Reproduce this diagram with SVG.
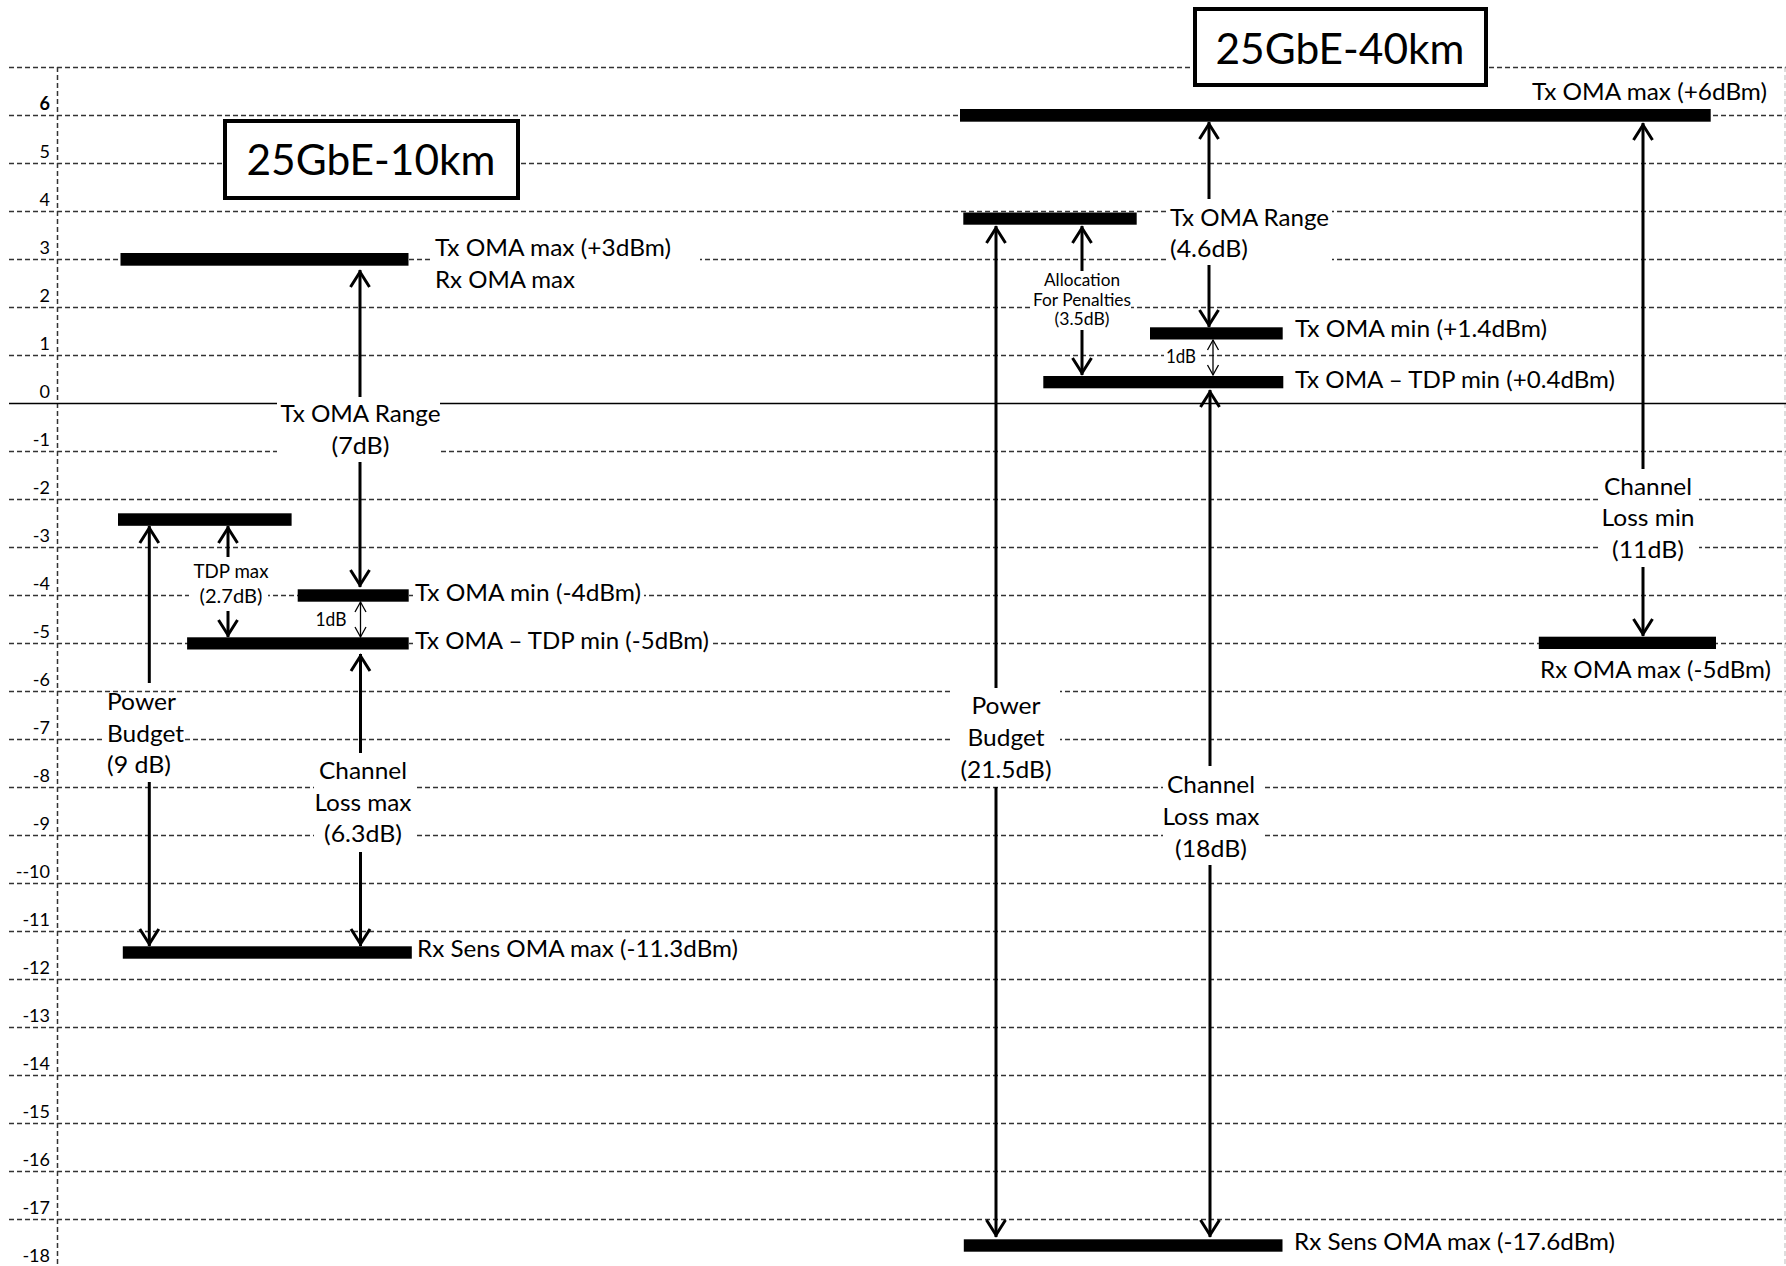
<svg xmlns="http://www.w3.org/2000/svg" width="1786" height="1266" viewBox="0 0 1786 1266">
<defs>
<style>
.grid{stroke:#333;stroke-width:1.5;stroke-dasharray:5 3;fill:none}
.bar{fill:#000}
.bg{fill:#fff}
.arr{stroke:#000;stroke-width:3;fill:none;marker-end:url(#ah)}
.thin{stroke:#000;stroke-width:1.3;fill:none;marker-start:url(#ahs);marker-end:url(#ahs)}
text{font-family:Lato,"Open Sans","Liberation Sans",sans-serif;fill:#000}
.t{font-size:24px}
.ax{font-size:18px;text-anchor:end}
.sm{font-size:17px;text-anchor:middle}
.md{font-size:19px;text-anchor:middle}
.c{text-anchor:middle}
.title{font-size:43px;text-anchor:middle}
.box{fill:#fff;stroke:#000;stroke-width:4}
</style>
<marker id="ah" markerUnits="userSpaceOnUse" orient="auto" refX="0" refY="0" markerWidth="30" markerHeight="30" overflow="visible">
<path d="M-17,-9.5 L-2,0 L-17,9.5" fill="none" stroke="#000" stroke-width="3"/>
</marker>
<marker id="ahs" markerUnits="userSpaceOnUse" orient="auto-start-reverse" refX="0" refY="0" markerWidth="20" markerHeight="20" overflow="visible">
<path d="M-10,-5.5 L0,0 L-10,5.5" fill="none" stroke="#000" stroke-width="1.3"/>
</marker>
</defs>
<rect width="1786" height="1266" fill="#fff"/>

<g id="grid">
<path class="grid" d="M9,67.5H1786M9,115.5H1786M9,163.5H1786M9,211.5H1786M9,259.5H1786M9,307.5H1786M9,355.5H1786M9,451.5H1786M9,499.5H1786M9,547.5H1786M9,595.5H1786M9,643.5H1786M9,691.5H1786M9,739.5H1786M9,787.5H1786M9,835.5H1786M9,883.5H1786M9,931.5H1786M9,979.5H1786M9,1027.5H1786M9,1075.5H1786M9,1123.5H1786M9,1171.5H1786M9,1219.5H1786"/>
<path class="grid" d="M57.5,67V1266"/>
<path d="M1785,67V1266" stroke="#bbb" stroke-width="1" stroke-dasharray="5 3"/>
<path d="M9,403.5H1786" stroke="#000" stroke-width="1.6"/>
</g>

<g id="axis-labels">
<text class="ax" x="50" y="109.5" font-weight="bold">6</text>
<text class="ax" x="50" y="157.5">5</text>
<text class="ax" x="50" y="205.5">4</text>
<text class="ax" x="50" y="253.5">3</text>
<text class="ax" x="50" y="301.5">2</text>
<text class="ax" x="50" y="349.5">1</text>
<text class="ax" x="50" y="397.5">0</text>
<text class="ax" x="50" y="445.5">-1</text>
<text class="ax" x="50" y="493.5">-2</text>
<text class="ax" x="50" y="541.5">-3</text>
<text class="ax" x="50" y="589.5">-4</text>
<text class="ax" x="50" y="637.5">-5</text>
<text class="ax" x="50" y="685.5">-6</text>
<text class="ax" x="50" y="733.5">-7</text>
<text class="ax" x="50" y="781.5">-8</text>
<text class="ax" x="50" y="829.5">-9</text>
<text class="ax" x="50" y="877.5">--10</text>
<text class="ax" x="50" y="925.5">-11</text>
<text class="ax" x="50" y="973.5">-12</text>
<text class="ax" x="50" y="1021.5">-13</text>
<text class="ax" x="50" y="1069.5">-14</text>
<text class="ax" x="50" y="1117.5">-15</text>
<text class="ax" x="50" y="1165.5">-16</text>
<text class="ax" x="50" y="1213.5">-17</text>
<text class="ax" x="50" y="1261.5">-18</text>
</g>

<g id="label-backgrounds">
<rect class="bg" x="433" y="236" width="267" height="60"/>
<rect class="bg" x="277" y="398" width="163" height="63"/>
<rect class="bg" x="189" y="560" width="79" height="50"/>
<rect class="bg" x="413" y="584" width="231" height="23"/>
<rect class="bg" x="413" y="632" width="299" height="24"/>
<rect class="bg" x="105" y="694" width="79" height="87"/>
<rect class="bg" x="314" y="757" width="101" height="93"/>
<rect class="bg" x="1166" y="204" width="166" height="60"/>
<rect class="bg" x="1031" y="272" width="100" height="57"/>
<rect class="bg" x="1164" y="347" width="34" height="19"/>
<rect class="bg" x="952" y="689" width="108" height="96"/>
<rect class="bg" x="1163" y="772" width="99" height="90"/>
<rect class="bg" x="1601" y="474" width="98" height="91"/>
</g>

<g id="title-10km">
<rect class="box" x="225" y="121" width="293" height="77"/>
<text class="title" x="371" y="175" textLength="249" lengthAdjust="spacingAndGlyphs">25GbE-10km</text>
</g>
<g id="title-40km">
<rect class="box" x="1195" y="9" width="291" height="76"/>
<text class="title" x="1340" y="64" textLength="249" lengthAdjust="spacingAndGlyphs">25GbE-40km</text>
</g>

<g id="level-10km-txmax">
<rect class="bar" x="120.5" y="253" width="288" height="12.7"/>
<text class="t" x="435" y="256" textLength="236" lengthAdjust="spacingAndGlyphs">Tx OMA max (+3dBm)</text>
<text class="t" x="435" y="288" textLength="140" lengthAdjust="spacingAndGlyphs">Rx OMA max</text>
</g>
<g id="level-10km-tdp">
<rect class="bar" x="118" y="513.3" width="173.6" height="12.5"/>
</g>
<g id="level-10km-txmin">
<rect class="bar" x="297.7" y="589.3" width="111" height="12.4"/>
<text class="t" x="415" y="600.5" textLength="226" lengthAdjust="spacingAndGlyphs">Tx OMA min (-4dBm)</text>
</g>
<g id="level-10km-txtdp">
<rect class="bar" x="187.1" y="637.3" width="221.6" height="12.2"/>
<text class="t" x="415" y="649" textLength="294" lengthAdjust="spacingAndGlyphs">Tx OMA – TDP min (-5dBm)</text>
</g>
<g id="level-10km-rxsens">
<rect class="bar" x="122.8" y="946.3" width="289" height="12.4"/>
<text class="t" x="417" y="957" textLength="321" lengthAdjust="spacingAndGlyphs">Rx Sens OMA max (-11.3dBm)</text>
</g>

<g id="level-40km-txmax">
<rect class="bar" x="960" y="109" width="750.7" height="12.7"/>
<text class="t" x="1532" y="100" textLength="235" lengthAdjust="spacingAndGlyphs">Tx OMA max (+6dBm)</text>
</g>
<g id="level-40km-alloc">
<rect class="bar" x="963.3" y="212.5" width="173.4" height="12.2"/>
</g>
<g id="level-40km-txmin">
<rect class="bar" x="1150" y="327.3" width="132.7" height="12.2"/>
<text class="t" x="1295" y="337" textLength="252" lengthAdjust="spacingAndGlyphs">Tx OMA min (+1.4dBm)</text>
</g>
<g id="level-40km-txtdp">
<rect class="bar" x="1043.3" y="376" width="240" height="12.3"/>
<text class="t" x="1295" y="387.5" textLength="320" lengthAdjust="spacingAndGlyphs">Tx OMA – TDP min (+0.4dBm)</text>
</g>
<g id="level-40km-rxmax">
<rect class="bar" x="1538.8" y="636.7" width="177.2" height="12.3"/>
<text class="t" x="1540" y="677.5" textLength="231" lengthAdjust="spacingAndGlyphs">Rx OMA max (-5dBm)</text>
</g>
<g id="level-40km-rxsens">
<rect class="bar" x="963.8" y="1239.3" width="318.7" height="12.4"/>
<text class="t" x="1294" y="1250" textLength="321" lengthAdjust="spacingAndGlyphs">Rx Sens OMA max (-17.6dBm)</text>
</g>

<g id="connectors">
<line class="arr" x1="360" y1="397" x2="360" y2="270"/>
<line class="arr" x1="360" y1="462" x2="360" y2="587"/>
<line class="arr" x1="228" y1="557" x2="228" y2="526"/>
<line class="arr" x1="228" y1="611" x2="228" y2="637"/>
<line class="arr" x1="149.3" y1="683" x2="149.3" y2="526"/>
<line class="arr" x1="149.3" y1="782" x2="149.3" y2="946"/>
<line class="arr" x1="360.5" y1="753" x2="360.5" y2="654"/>
<line class="arr" x1="360.5" y1="852" x2="360.5" y2="946"/>
<line class="thin" x1="360.5" y1="602" x2="360.5" y2="637"/>
<line class="arr" x1="1209" y1="199" x2="1209" y2="122"/>
<line class="arr" x1="1209" y1="265" x2="1209" y2="327"/>
<line class="arr" x1="1082" y1="271" x2="1082" y2="226"/>
<line class="arr" x1="1082" y1="330" x2="1082" y2="375"/>
<line class="thin" x1="1213" y1="340" x2="1213" y2="375"/>
<line class="arr" x1="996" y1="688" x2="996" y2="226"/>
<line class="arr" x1="996" y1="787" x2="996" y2="1237"/>
<line class="arr" x1="1210" y1="766" x2="1210" y2="390"/>
<line class="arr" x1="1210" y1="865" x2="1210" y2="1237"/>
<line class="arr" x1="1643" y1="469" x2="1643" y2="123"/>
<line class="arr" x1="1643" y1="567" x2="1643" y2="636"/>
</g>

<g id="label-10km-range">
<text class="t c" x="360.5" y="422" textLength="160" lengthAdjust="spacingAndGlyphs">Tx OMA Range</text>
<text class="t c" x="360.5" y="453.5" textLength="58" lengthAdjust="spacingAndGlyphs">(7dB)</text>
</g>
<g id="label-10km-tdp">
<text class="md" x="231" y="578" textLength="75" lengthAdjust="spacingAndGlyphs">TDP max</text>
<text class="md" x="231" y="603" textLength="63" lengthAdjust="spacingAndGlyphs">(2.7dB)</text>
</g>
<g id="label-10km-1db">
<text class="md" x="331" y="626" font-size="18" textLength="31" lengthAdjust="spacingAndGlyphs">1dB</text>
</g>
<g id="label-10km-budget">
<text class="t" x="107" y="710" textLength="69" lengthAdjust="spacingAndGlyphs">Power</text>
<text class="t" x="107" y="742" textLength="77" lengthAdjust="spacingAndGlyphs">Budget</text>
<text class="t" x="107" y="773" textLength="64" lengthAdjust="spacingAndGlyphs">(9 dB)</text>
</g>
<g id="label-10km-loss">
<text class="t c" x="363" y="779" textLength="88" lengthAdjust="spacingAndGlyphs">Channel</text>
<text class="t c" x="363" y="811" textLength="97" lengthAdjust="spacingAndGlyphs">Loss max</text>
<text class="t c" x="363" y="842" textLength="78" lengthAdjust="spacingAndGlyphs">(6.3dB)</text>
</g>

<g id="label-40km-range">
<text class="t" x="1170" y="226" textLength="159" lengthAdjust="spacingAndGlyphs">Tx OMA Range</text>
<text class="t" x="1170" y="257" textLength="78" lengthAdjust="spacingAndGlyphs">(4.6dB)</text>
</g>
<g id="label-40km-alloc">
<text class="sm" x="1082" y="286" textLength="76" lengthAdjust="spacingAndGlyphs">Allocation</text>
<text class="sm" x="1082" y="305.5" textLength="98" lengthAdjust="spacingAndGlyphs">For Penalties</text>
<text class="sm" x="1082" y="325" textLength="55" lengthAdjust="spacingAndGlyphs">(3.5dB)</text>
</g>
<g id="label-40km-1db">
<text class="md" x="1181" y="363" font-size="18" textLength="30" lengthAdjust="spacingAndGlyphs">1dB</text>
</g>
<g id="label-40km-budget">
<text class="t c" x="1006" y="714" textLength="69" lengthAdjust="spacingAndGlyphs">Power</text>
<text class="t c" x="1006" y="746" textLength="77" lengthAdjust="spacingAndGlyphs">Budget</text>
<text class="t c" x="1006" y="778" textLength="91" lengthAdjust="spacingAndGlyphs">(21.5dB)</text>
</g>
<g id="label-40km-lossmax">
<text class="t c" x="1211" y="793" textLength="88" lengthAdjust="spacingAndGlyphs">Channel</text>
<text class="t c" x="1211" y="825" textLength="97" lengthAdjust="spacingAndGlyphs">Loss max</text>
<text class="t c" x="1211" y="856.5" textLength="72" lengthAdjust="spacingAndGlyphs">(18dB)</text>
</g>
<g id="label-40km-lossmin">
<text class="t c" x="1648" y="494.5" textLength="88" lengthAdjust="spacingAndGlyphs">Channel</text>
<text class="t c" x="1648" y="526" textLength="93" lengthAdjust="spacingAndGlyphs">Loss min</text>
<text class="t c" x="1648" y="558" textLength="72" lengthAdjust="spacingAndGlyphs">(11dB)</text>
</g>
</svg>
